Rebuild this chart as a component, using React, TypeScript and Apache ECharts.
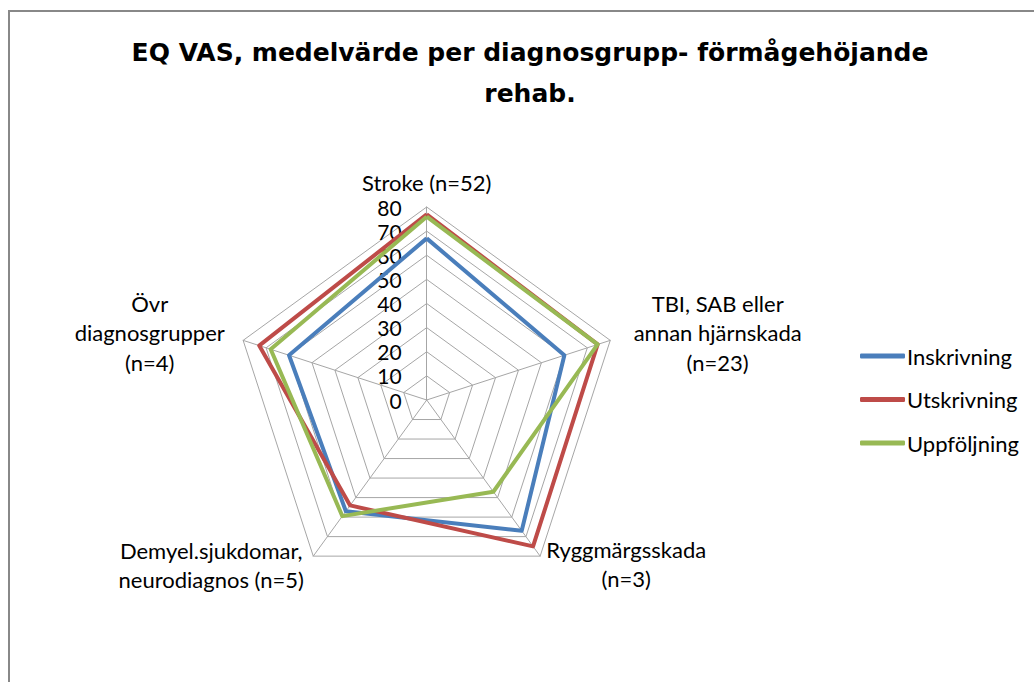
import React, { useEffect, useRef } from "react";
import * as echarts from "echarts";

const categories = [
  "Stroke (n=52)",
  "TBI, SAB eller\nannan hjärnskada\n(n=23)",
  "Ryggmärgsskada\n(n=3)",
  "Demyel.sjukdomar,\nneurodiagnos (n=5)",
  "Övr\ndiagnosgrupper\n(n=4)",
];
const inskrivning = [67, 60, 67, 57, 60];
const utskrivning = [77, 74.5, 75, 54, 73];
const uppfoljning = [76, 74.5, 47, 59.5, 68];
const seriesNames = ["Inskrivning", "Utskrivning", "Uppföljning"];
const colors = ["#4A7EBB", "#BE4B48", "#98B954"];
const maxValue = 80;
const tickInterval = 10;

const FONT = "Lato, 'Open Sans', sans-serif";
const TITLE_FONT = "'DejaVu Sans', 'Open Sans', sans-serif";

export default function App() {
  const ref = useRef<HTMLDivElement>(null);
  useEffect(() => {
    if (!ref.current) return;
    const chart = echarts.init(ref.current, undefined, { renderer: "svg" });
    const cx = 426.7;
    const cy = 400;
    const R = 193;
    // ECharts radar lays out indicators counter-clockwise; Excel clockwise.
    const order = [0, 4, 3, 2, 1];
    const reorder = (arr: number[]) => order.map((i) => arr[i]);
    const n = categories.length;
    const nameOffsets = [
      { dr: 24, dx: 0, dy: -1 },
      { dr: 12, dx: 96, dy: -4 },
      { dr: 0, dx: 86, dy: 8 },
      { dr: 0, dx: -102, dy: 9 },
      { dr: 12, dx: -82, dy: -4 },
    ];
    const nameGraphics = categories.map((c, i) => {
      const ang = Math.PI / 2 - (i * 2 * Math.PI) / n;
      const o = nameOffsets[i];
      const x = cx + (R + o.dr) * Math.cos(ang) + o.dx;
      const y = cy - (R + o.dr) * Math.sin(ang) + o.dy;
      return {
        type: "text",
        x,
        y,
        style: {
          text: c,
          font: `22px ${FONT}`,
          fill: "#000",
          textAlign: "center",
          textVerticalAlign: "middle",
          lineHeight: i === 0 ? 22 : 29.5,
        },
      };
    });
    chart.setOption({
      animation: false,
      backgroundColor: "#fff",
      title: {
        text: "EQ VAS, medelvärde per diagnosgrupp- förmågehöjande\nrehab.",
        left: 525,
        top: 27,
        textAlign: "center",
        textStyle: {
          fontFamily: TITLE_FONT,
          fontSize: 25,
          fontWeight: "bold",
          color: "#000",
          lineHeight: 41,
        },
      },
      legend: {
        orient: "vertical",
        left: 855,
        top: 340,
        icon: "roundRect",
        itemWidth: 45,
        itemHeight: 5,
        itemGap: 21.5,
        textStyle: { fontFamily: FONT, fontSize: 22, color: "#000", padding: [0, 0, 0, -3] },
        data: seriesNames,
      },
      grid: { left: cx, top: cy - R, height: R, width: 50 },
      xAxis: { type: "value", show: false },
      yAxis: {
        type: "value",
        min: 0,
        max: maxValue,
        interval: tickInterval,
        axisLine: { show: false },
        axisTick: { show: false },
        splitLine: { show: false },
        axisLabel: {
          fontFamily: FONT,
          fontSize: 21,
          lineHeight: 20,
          color: "#000",
          margin: 25,
        },
      },
      radar: {
        center: [cx, cy],
        radius: R,
        shape: "polygon",
        splitNumber: maxValue / tickInterval,
        indicator: order.map((i) => ({ name: categories[i], min: 0, max: maxValue })),
        axisName: { show: false },
        axisLine: { lineStyle: { color: "#A6A6A6", width: 1 } },
        splitLine: { lineStyle: { color: "#A6A6A6", width: 1 } },
        splitArea: { show: false },
      },
      graphic: [
        {
          type: "rect",
          shape: { x: 9, y: 11, width: 1100, height: 800 },
          style: { fill: "none", stroke: "#888", lineWidth: 2 },
          silent: true,
        },
        ...nameGraphics,
      ],
      series: [
        {
          type: "radar",
          symbol: "none",
          data: [inskrivning, utskrivning, uppfoljning].map((arr, k) => ({
            name: seriesNames[k],
            value: reorder(arr),
            lineStyle: { color: colors[k], width: 4 },
            itemStyle: { color: colors[k] },
          })),
        },
      ],
    });
    return () => chart.dispose();
  }, []);
  return (
    <div
      ref={ref}
      style={{ position: "fixed", left: 0, top: 0, width: 1034, height: 682 }}
    />
  );
}
